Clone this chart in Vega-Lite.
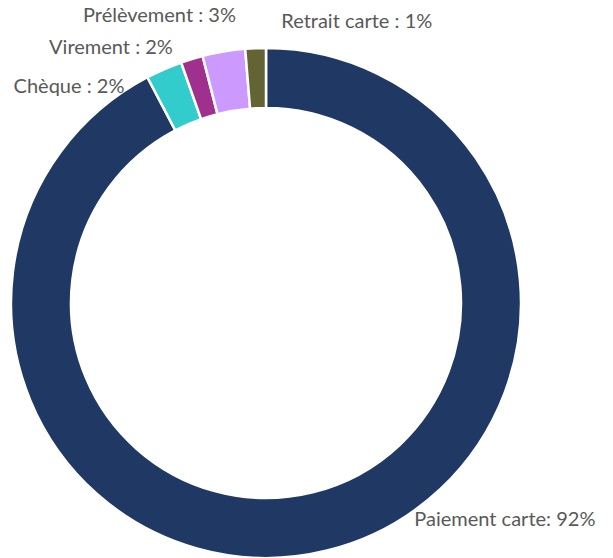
{
  "$schema": "https://vega.github.io/schema/vega-lite/v6.json",
  "width": 510,
  "height": 510,
  "autosize": {"type": "none"},
  "padding": {"left": 11, "top": 48, "right": 92, "bottom": 0},
  "background": "white",
  "config": {"view": {"stroke": null}},
  "data": {
    "values": [
      {"cat": "Paiement carte", "value": 92.3, "order": 1, "label": "Paiement carte: 92%"},
      {"cat": "Chèque", "value": 2.3, "order": 2, "label": "Chèque : 2%"},
      {"cat": "Virement", "value": 1.4, "order": 3, "label": "Virement : 2%"},
      {"cat": "Prélèvement", "value": 2.7, "order": 4, "label": "Prélèvement : 3%"},
      {"cat": "Retrait carte", "value": 1.3, "order": 5, "label": "Retrait carte : 1%"}
    ]
  },
  "encoding": {
    "theta": {"field": "value", "type": "quantitative", "stack": true},
    "order": {"field": "order", "type": "quantitative"}
  },
  "layer": [
    {
      "mark": {"type": "arc", "outerRadius": 255, "innerRadius": 195, "stroke": "white", "strokeWidth": 2.5},
      "encoding": {
        "color": {
          "field": "cat", "type": "nominal", "legend": null,
          "scale": {
            "domain": ["Paiement carte", "Chèque", "Virement", "Prélèvement", "Retrait carte"],
            "range": ["#1F3864", "#33CCCC", "#A0308E", "#CC99FF", "#636333"]
          }
        }
      }
    },
    {
      "mark": {"type": "text", "radius": 275, "dx": 173, "dy": -50, "fontSize": 20, "font": "Lato", "fill": "#595959", "baseline": "middle", "align": "center"},
      "encoding": {"text": {"condition": {"test": "datum.cat === 'Paiement carte'", "field": "label"}, "value": ""}}
    },
    {
      "mark": {"type": "text", "radius": 275, "dx": -87, "dy": 36, "fontSize": 20, "font": "Lato", "fill": "#595959", "baseline": "middle", "align": "center"},
      "encoding": {"text": {"condition": {"test": "datum.cat === 'Chèque'", "field": "label"}, "value": ""}}
    },
    {
      "mark": {"type": "text", "radius": 275, "dx": -75, "dy": 8, "fontSize": 20, "font": "Lato", "fill": "#595959", "baseline": "middle", "align": "center"},
      "encoding": {"text": {"condition": {"test": "datum.cat === 'Virement'", "field": "label"}, "value": ""}}
    },
    {
      "mark": {"type": "text", "radius": 275, "dx": -61, "dy": -16, "fontSize": 20, "font": "Lato", "fill": "#595959", "baseline": "middle", "align": "center"},
      "encoding": {"text": {"condition": {"test": "datum.cat === 'Prélèvement'", "field": "label"}, "value": ""}}
    },
    {
      "mark": {"type": "text", "radius": 275, "dx": 102, "dy": -6, "fontSize": 20, "font": "Lato", "fill": "#595959", "baseline": "middle", "align": "center"},
      "encoding": {"text": {"condition": {"test": "datum.cat === 'Retrait carte'", "field": "label"}, "value": ""}}
    }
  ]
}
